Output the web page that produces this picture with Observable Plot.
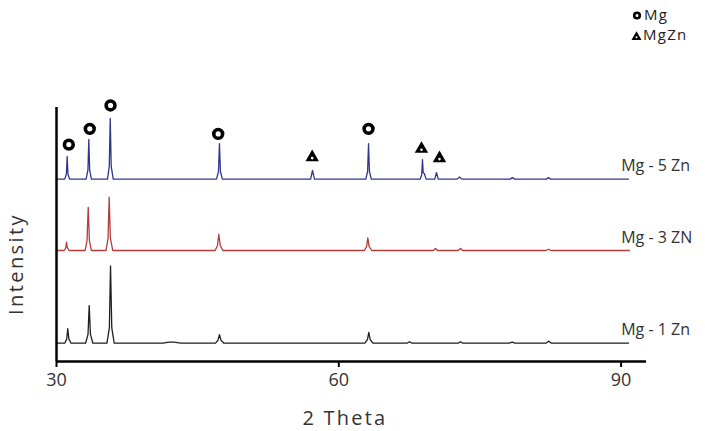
<!DOCTYPE html>
<html>
<head>
<meta charset="utf-8">
<script src="https://cdn.jsdelivr.net/npm/d3@7"></script>
<script src="https://cdn.jsdelivr.net/npm/@observablehq/plot@0.6"></script>
<style>
  html, body { margin: 0; padding: 0; background: #fff; }
  #wrap { position: relative; width: 707px; height: 431px; overflow: hidden; }
  #overlay { position: absolute; left: 0; top: 0; pointer-events: none; }
</style>
</head>
<body>
<div id="wrap">
  <div id="chart"></div>
  <svg id="overlay" width="707" height="431" font-family="'Open Sans', sans-serif" fill="#333">
    <circle cx="637" cy="15.5" r="2.8" fill="#fff" stroke="#000" stroke-width="2.6"></circle>
    <text x="644" y="19.5" font-size="15" letter-spacing="1.3" fill="#222">Mg</text>
    <path d="M631.5,40 L641.5,40 L636.5,31.3 Z" fill="#000"></path>
    <circle cx="636.5" cy="37.2" r="1" fill="#fff"></circle>
    <text x="643" y="40" font-size="15" letter-spacing="1.3" fill="#222">MgZn</text>
    <text id="xtitle" x="345" y="425" font-size="20" letter-spacing="2.2" text-anchor="middle"></text>
    <text id="ytitle" transform="translate(23,264) rotate(-90)" font-size="20" letter-spacing="2.4" text-anchor="middle"></text>
  </svg>
</div>
<script>
// ---- data ----
const seriesNames = ["Mg - 1 Zn", "Mg - 3 ZN", "Mg - 5 Zn"];
const seriesColors = ["#1f1f1f", "#b33d3b", "#30358f"];
const seriesOffsets = [7.2, 43.7, 71.8];           // vertical stacking of the patterns

// [2θ, relative intensity] vertices of each pattern
const mg1Zn = [
  [30.0,0],
  [30.85,0],[31.05,1.6],[31.16,5.7],[31.28,1.6],[31.5,0],
  [33.0,0],[33.25,3.5],[33.37,14.8],[33.5,3.5],[33.75,0],
  [35.2,0],[35.45,6],[35.57,30.4],[35.7,6],[35.95,0],
  [41.0,0],[41.6,0.4],[42.1,0.4],[42.8,0],
  [46.4,0],[46.65,1.2],[46.8,3.4],[46.95,1.2],[47.25,0],
  [61.9,0],[62.18,1.4],[62.33,4.3],[62.48,1.4],[62.8,0],
  [66.5,0],[66.78,0.6],[67.05,0],
  [72.1,0],[72.36,0.6],[72.6,0],
  [77.7,0],[78.01,0.4],[78.3,0],
  [81.7,0],[82.0,0.8],[82.3,0],
  [90.73,0]
];
const mg3Zn = [
  [30.0,0],
  [30.8,0],[30.95,1.0],[31.03,3.3],[31.12,1.0],[31.3,0],
  [32.95,0],[33.15,4],[33.27,17],[33.39,4],[33.6,0],
  [35.1,0],[35.32,5],[35.43,21],[35.55,5],[35.8,0],
  [46.35,0],[46.6,2],[46.73,6.4],[46.88,2],[47.15,0],
  [61.85,0],[62.1,1.6],[62.22,5],[62.36,1.6],[62.65,0],
  [69.4,0],[69.62,0.8],[69.85,0],
  [72.1,0],[72.36,0.8],[72.6,0],
  [81.7,0],[81.98,0.5],[82.25,0],
  [90.84,0]
];
const mg5Zn = [
  [30.0,0],
  [30.85,0],[31.02,2.0],[31.1,8.9],[31.18,2.0],[31.35,0],
  [33.05,0],[33.24,3.5],[33.33,15.6],[33.42,3.5],[33.6,0],
  [35.25,0],[35.44,5],[35.54,23.9],[35.64,5],[35.85,0],
  [46.5,0],[46.7,3],[46.8,14],[46.9,3],[47.1,0],
  [56.2,0],[56.39,3.4],[56.6,0],
  [62.0,0],[62.2,3],[62.3,14],[62.4,3],[62.6,0],
  [67.95,0],[68.12,1.8],[68.2,7.7],[68.28,2.5],[68.4,2.2],[68.6,0],
  [69.55,0],[69.73,2.6],[69.92,0],
  [72.0,0],[72.25,0.8],[72.5,0],
  [77.8,0],[78.04,0.6],[78.3,0],
  [81.75,0],[81.98,0.6],[82.2,0],
  [90.73,0]
];
const patterns = [mg1Zn, mg3Zn, mg5Zn];

// phase markers (2θ and level on the stacked intensity axis)
const mgMarker2Theta = [31.27, 33.43, 35.57, 46.67, 62.30];
const mgMarkerLevel  = [85.4, 91.6, 100.8, 89.6, 91.6];
const mgZnMarker2Theta = [56.36, 68.09, 70.06];
const mgZnMarkerLevel  = [80.4, 83.7, 80.0];

const xTicks = [30, 60, 90];
const xTitle = "2 Theta";
const yTitle = "Intensity";
const labelTheta = 89.93;

// The reference axis is drawn slightly non-uniformly (30→60 is wider than 60→90);
// this scale transform reproduces that spacing.
const axisWarp = t => t <= 60 ? 30 + (t - 30) * 1.0308 : 60.925 + (t - 60) * 0.9717;

// ---- build tables ----
const rows = [];
patterns.forEach((p, i) => p.forEach(([t, v]) => rows.push({series: seriesNames[i], theta: t, value: v + seriesOffsets[i]})));
const mgMarks = mgMarker2Theta.map((t, i) => ({theta: t, value: mgMarkerLevel[i]}));
const mgZnMarks = mgZnMarker2Theta.map((t, i) => ({theta: t, value: mgZnMarkerLevel[i]}));
const labels = seriesNames.map((s, i) => ({name: s, value: seriesOffsets[i]}));

const chart = Plot.plot({
  width: 707,
  height: 431,
  marginTop: 107,
  marginBottom: 70,
  marginLeft: 56,
  marginRight: 61,
  style: {fontFamily: "'Open Sans', sans-serif", background: "#fff", color: "#333", overflow: "visible"},
  x: {domain: [30, 92.7], transform: axisWarp, axis: null},
  y: {domain: [0, 100], axis: null},
  color: {domain: seriesNames, range: seriesColors},
  marks: [
    Plot.line(rows, {x: "theta", y: "value", z: "series", stroke: "series", strokeWidth: 1.3}),
    Plot.ruleX([30], {y1: 0, y2: 100, stroke: "#000", strokeWidth: 2.5}),
    Plot.ruleY([0], {x1: 30, x2: 92.7, stroke: "#000", strokeWidth: 2.5}),
    Plot.axisX({ticks: xTicks, tickSize: 6, tickPadding: 6, fontSize: 18, stroke: "#000", strokeWidth: 2, fill: "#333", label: null}),
    Plot.dot(mgMarks, {x: "theta", y: "value", r: 4.4, symbol: "circle", fill: "#fff", stroke: "#000", strokeWidth: 3.6}),
    Plot.dot(mgZnMarks, {x: "theta", y: "value", r: 5, symbol: "triangle", fill: "#000"}),
    Plot.dot(mgZnMarks, {x: "theta", y: "value", r: 1.3, fill: "#fff", dy: 0.8}),
    Plot.text(labels, {x: labelTheta, y: "value", text: "name", textAnchor: "start", lineAnchor: "bottom", dy: -8, fontSize: 16, fill: "#333"})
  ]
});
document.getElementById("chart").appendChild(chart);
document.getElementById("xtitle").textContent = xTitle;
document.getElementById("ytitle").textContent = yTitle;
</script>
</body>
</html>
